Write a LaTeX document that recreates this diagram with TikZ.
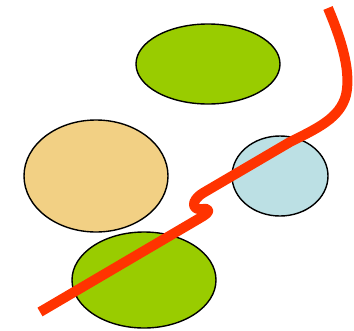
\documentclass[tikz,border=0pt]{standalone}
\begin{document}
\begin{tikzpicture}[x=1pt,y=-1pt,
  blob/.style={draw=black,line width=1.4pt},
  redline/.style={draw={rgb,255:red,255;green,51;blue,0},line width=10pt,line join=round}]
\definecolor{gr}{RGB}{153,204,0}
\definecolor{orng}{RGB}{242,208,132}
\definecolor{lblue}{RGB}{188,224,228}
\useasboundingbox (0,0) rectangle (354,330);
\path[blob,fill=gr] (208,64) ellipse [x radius=72,y radius=40];
\path[blob,fill=orng] (96,176) ellipse [x radius=72,y radius=56];
\path[blob,fill=lblue] (280,176) ellipse [x radius=48,y radius=40];
\path[blob,fill=gr] (144,280) ellipse [x radius=72,y radius=48];
\coordinate (s) at (328,8);
\coordinate (e) at (40,312);
\draw[redline] (s) .. controls (338,32) and (352,68) .. (346,95)
  .. controls (340,118) and (318,128) .. (290,142)
  -- (203,193) .. controls (190,201) and (192,211) .. (203,209)
  .. controls (210,208) and (211,212) .. (200,218) -- (e);
\end{tikzpicture}
\end{document}
